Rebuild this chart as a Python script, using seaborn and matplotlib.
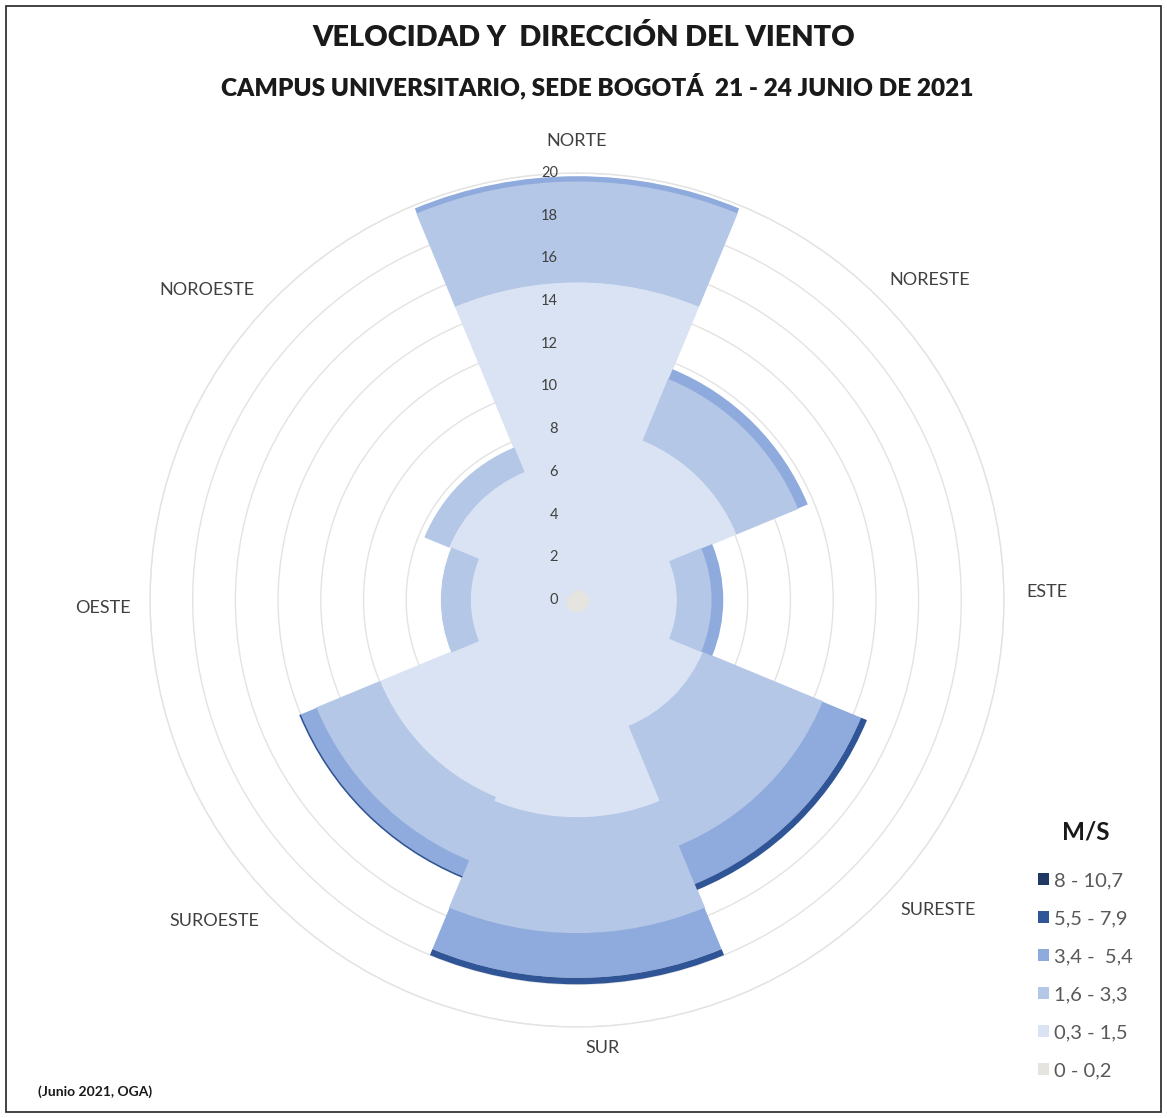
import numpy as np
import matplotlib
matplotlib.use("Agg")
import matplotlib.pyplot as plt
import matplotlib.transforms as mtransforms
from matplotlib.patches import Patch, Rectangle
import seaborn as sns

# ---------------- data ----------------
directions = ["NORTE", "NORESTE", "ESTE", "SURESTE", "SUR", "SUROESTE", "OESTE", "NOROESTE"]
dir_angles_deg = [0, 45, 90, 135, 180, 225, 270, 315]
speed_bins = ["0 - 0,2", "0,3 - 1,5", "1,6 - 3,3", "3,4 -  5,4", "5,5 - 7,9", "8 - 10,7"]

# frequency (%) per speed bin, per direction (N, NE, E, SE, S, SW, W, NW)
freq_0_02   = [0.5, 0.5, 0.6, 0.6, 0.6, 0.6, 0.5, 0.4]
freq_03_15  = [14.4, 7.6, 4.1, 5.8, 9.6, 9.4, 4.5, 6.1]
freq_16_33  = [4.7, 3.1, 1.6, 6.05, 5.4, 3.2, 1.35, 1.2]
freq_34_54  = [0.25, 0.5, 0.55, 1.95, 2.1, 0.8, 0.0, 0.0]
freq_55_79  = [0.0, 0.0, 0.0, 0.3, 0.3, 0.08, 0.0, 0.0]
freq_8_107  = [0.0, 0.0, 0.0, 0.0, 0.0, 0.0, 0.0, 0.0]

r_ticks = [0, 2, 4, 6, 8, 10, 12, 14, 16, 18, 20]

title = "VELOCIDAD Y  DIRECCIÓN DEL VIENTO"
subtitle = "CAMPUS UNIVERSITARIO, SEDE BOGOTÁ  21 - 24 JUNIO DE 2021"
legend_title = "M/S"
footnote = "(Junio 2021, OGA)"

# label placement (angle deg, radius) for direction names
label_angles = [0, 47.8, 89, 130.7, 176.7, 228.5, 269, 309.9]
label_radii = [21.5, 22.3, 22.0, 22.3, 21.0, 22.7, 22.2, 22.6]

# ---------------- style ----------------
sns.set_theme(style="white")
FONT = ["Lato", "DejaVu Sans"]
plt.rcParams["font.family"] = FONT

colors = ["#e6e4df", "#dae3f3", "#b4c7e7", "#8faadc", "#2f5597", "#1f3864"]
palette = sns.color_palette(colors)

W, H, DPI = 1167, 1118, 100
fig = plt.figure(figsize=(W / DPI, H / DPI), dpi=DPI, facecolor="white")

cx, cy = 577, 600           # centre in px (from top)
R = 427                     # radius of r=20 in px
ax = fig.add_axes([(cx - R) / W, (H - cy - R) / H, 2 * R / W, 2 * R / H],
                  projection="polar")
ax.set_theta_zero_location("N")
ax.set_theta_direction(-1)
ax.set_ylim(0, 20)
ax.set_facecolor("none")

theta = np.deg2rad(dir_angles_deg)
width = np.deg2rad(45)

series = [freq_0_02, freq_03_15, freq_16_33, freq_34_54, freq_55_79, freq_8_107]
bottom = np.zeros(len(directions))
for i, (vals, col) in enumerate(zip(series, palette)):
    vals = np.asarray(vals, dtype=float)
    lw = 0.8 if i < 3 else 0.0
    ax.bar(theta, vals, width=width, bottom=bottom, color=col,
           edgecolor=col, linewidth=lw, align="center", zorder=3 + i * 0.01)
    bottom = bottom + vals

# grid
ax.set_yticks(r_ticks)
ax.set_yticklabels([])
ax.set_xticks([])
ax.yaxis.grid(True, color="#e3e3e3", linewidth=1.0)
ax.xaxis.grid(False)
ax.spines["polar"].set_color("#e3e3e3")
ax.spines["polar"].set_linewidth(1.0)
ax.set_axisbelow(True)

# radial tick labels, column just left of centre line
off = mtransforms.offset_copy(ax.transData, fig=fig, x=-19, y=0, units="dots")
for r in r_ticks:
    ax.text(0, r, str(r), transform=off, ha="right", va="center",
            fontsize=10.5, color="#404040", zorder=5)

# direction labels
for name, a, rr in zip(directions, label_angles, label_radii):
    ax.text(np.deg2rad(a), rr, name, ha="center", va="center",
            fontsize=13, color="#404040", clip_on=False)

# titles
fig.text(584 / W, 1 - 38 / H, title, ha="center", va="center",
         fontsize=20.8, fontweight="heavy", color="#1a1a1a")
fig.text(597 / W, 1 - 86 / H, subtitle, ha="center", va="center",
         fontsize=17.6, fontweight="heavy", color="#1a1a1a")
fig.text(38 / W, 1 - 1092 / H, footnote, ha="left", va="center",
         fontsize=10, fontweight="bold", color="#1a1a1a")

# legend
handles = [Patch(facecolor=c, edgecolor="none") for c in palette][::-1]
labels = speed_bins[::-1]
leg = fig.legend(handles, labels, loc="upper left",
                 bbox_to_anchor=(1030 / W, 1 - 812 / H),
                 frameon=False, fontsize=14.5, title=legend_title,
                 title_fontproperties={"weight": "bold", "size": 17.5, "family": FONT},
                 handlelength=0.55, handleheight=0.55, handletextpad=0.25,
                 labelspacing=1.04, borderaxespad=0)
for t in leg.get_texts():
    t.set_color("#595959")
leg.get_title().set_color("#1a1a1a")
leg._legend_box.sep = 21

# frame around figure
fig.patches.append(Rectangle((6 / W, 6 / H), (W - 12) / W, (H - 12) / H,
                             transform=fig.transFigure, fill=False,
                             edgecolor="#222222", linewidth=1.2))

fig.savefig("out.png", dpi=DPI, facecolor="white")
